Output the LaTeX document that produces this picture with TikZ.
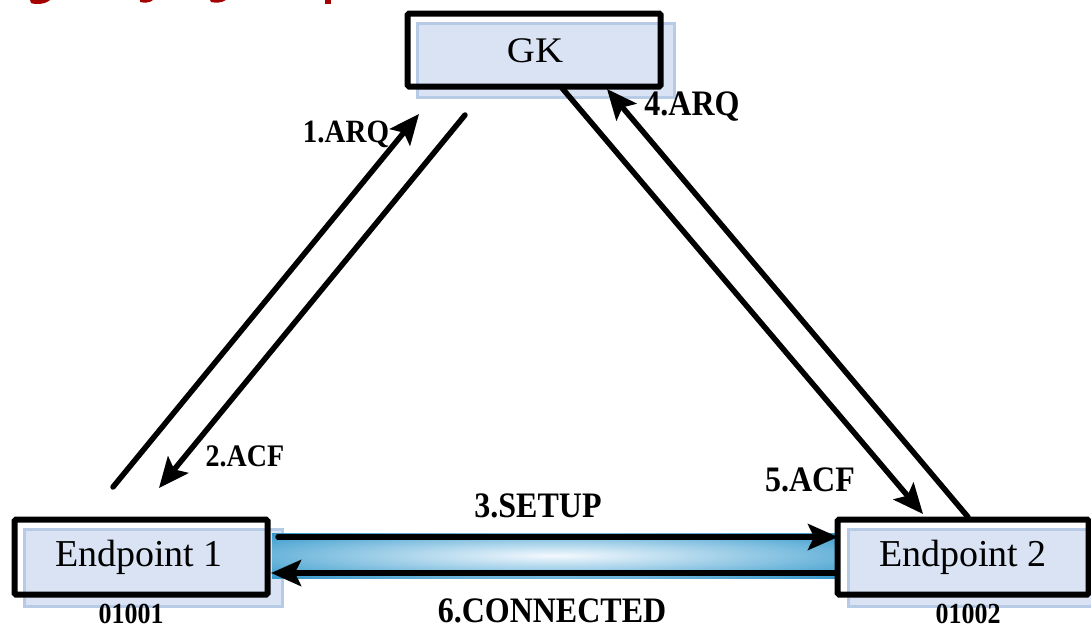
\documentclass[tikz,border=0pt]{standalone}
\usepackage{fontspec}
\setmainfont{Liberation Serif}
\usetikzlibrary{arrows.meta}
\definecolor{shblue}{HTML}{C9D8EE}
\definecolor{boxfill}{HTML}{D9E3F3}
\definecolor{boxedge}{HTML}{B7CAE6}
\definecolor{barblue}{HTML}{168AC4}
\definecolor{barlight}{HTML}{F4F9FE}
\definecolor{titlered}{HTML}{A30000}
\tikzset{
  frame/.style={draw=black, line width=6pt, rounded corners=1.5pt, inner sep=0pt},
  shadowbox/.style={fill=boxfill, draw=boxedge, line width=3pt},
  msg/.style={line width=5.5pt, line cap=round, -{Stealth[length=30pt,width=26pt,inset=6pt]}},
  msgshadow/.style={line width=5pt, draw=shblue, -{Stealth[length=30pt,width=26pt,inset=6pt]}},
  lbl/.style={font=\fontsize{32}{34}\selectfont\bfseries, inner sep=0pt},
  numlbl/.style={font=\fontsize{26}{28}\selectfont\bfseries, inner sep=0pt},
  boxtext/.style={font=\fontsize{38}{40}\selectfont},
}
\newcommand{\tall}[1]{\scalebox{1}[1.12]{#1}}
\begin{document}
\begin{tikzpicture}[x=1pt,y=-1pt]
\useasboundingbox (0,0) rectangle (1091,629);
% cropped red title fragments
\fill[titlered] (30,0) -- (50,0) .. controls (46,4) and (36,5) .. (31,3) -- cycle;
\fill[titlered] (140,0) -- (153,0) .. controls (150,3) and (144,3) .. (140,2) -- cycle;
\fill[titlered] (210,0) -- (226,0) .. controls (222,3) and (215,3) .. (211,2) -- cycle;
\fill[titlered] (325,0) rectangle (331,4);
% box shadows
\draw[shadowbox] (417,23) rectangle (674,97);
\draw[shadowbox] (24,529) rectangle (282,606);
\draw[shadowbox] (848,529) rectangle (1100,606);
% coordinates
\coordinate (a1s) at (113,487); \coordinate (a1e) at (419,114);
\coordinate (a2s) at (465,115); \coordinate (a2e) at (159,488);
\coordinate (a5s) at (562,88);  \coordinate (a5e) at (923,514);
\coordinate (a4s) at (968,517); \coordinate (a4e) at (607,89);
\coordinate (a3s) at (278,537); \coordinate (a3e) at (838,537);
\coordinate (a6s) at (835,573); \coordinate (a6e) at (271,573);
% arrow shadows
\begin{scope}[shift={(10,11)}]
  \draw[msgshadow] (a1s) -- (a1e);
  \draw[msgshadow] (a2s) -- (a2e);
  \draw[msgshadow] (a5s) -- (a5e);
  \draw[msgshadow] (a4s) -- (a4e);
  \draw[msgshadow] (a6s) -- (a6e);
\end{scope}
% gradient bar
\begin{scope}
  \clip (272,533) rectangle (838,578);
  \shade[inner color=barlight, outer color=barblue] (555,555.5) ellipse (460 and 36);
\end{scope}
% boxes
\node[frame, minimum width=253pt, minimum height=73pt] (gk) at (534,50) {};
\node[frame, minimum width=253pt, minimum height=75pt] (ep1) at (141,557) {};
\node[frame, minimum width=251pt, minimum height=75pt] (ep2) at (963,557) {};
\node[boxtext, font=\fontsize{36}{38}\selectfont] at (535,51) {\scalebox{1.08}[1]{GK}};
\node[boxtext] at (139,557) {Endpoint 1};
\node[boxtext] at (963,557) {Endpoint 2};
% arrows
\draw[msg] (a1s) -- (a1e);
\draw[msg] (a2s) -- (a2e);
\draw[msg] (a5s) -- (a5e);
\draw[msg] (a4s) -- (a4e);
\draw[msg] (a3s) -- (a3e);
\draw[msg] (a6s) -- (a6e);
% labels
\node[lbl, font=\fontsize{29}{31}\selectfont\bfseries] (l1) at (346,134) {\tall{1.ARQ}};
\node[lbl, font=\fontsize{28}{30}\selectfont\bfseries] (l2) at (245,456) {\tall{2.ACF}};
\node[lbl] (l4) at (692,107) {\tall{4.ARQ}};
\node[lbl] (l5) at (810,480) {\tall{5.ACF}};
\node[lbl] (l3) at (538,506) {\tall{3.SETUP}};
\node[lbl] (l6) at (552,611) {\tall{6.CONNECTED}};
\node[numlbl] (n1) at (131,614) {\tall{01001}};
\node[numlbl] (n2) at (968,614) {\tall{01002}};
\end{tikzpicture}
\end{document}
